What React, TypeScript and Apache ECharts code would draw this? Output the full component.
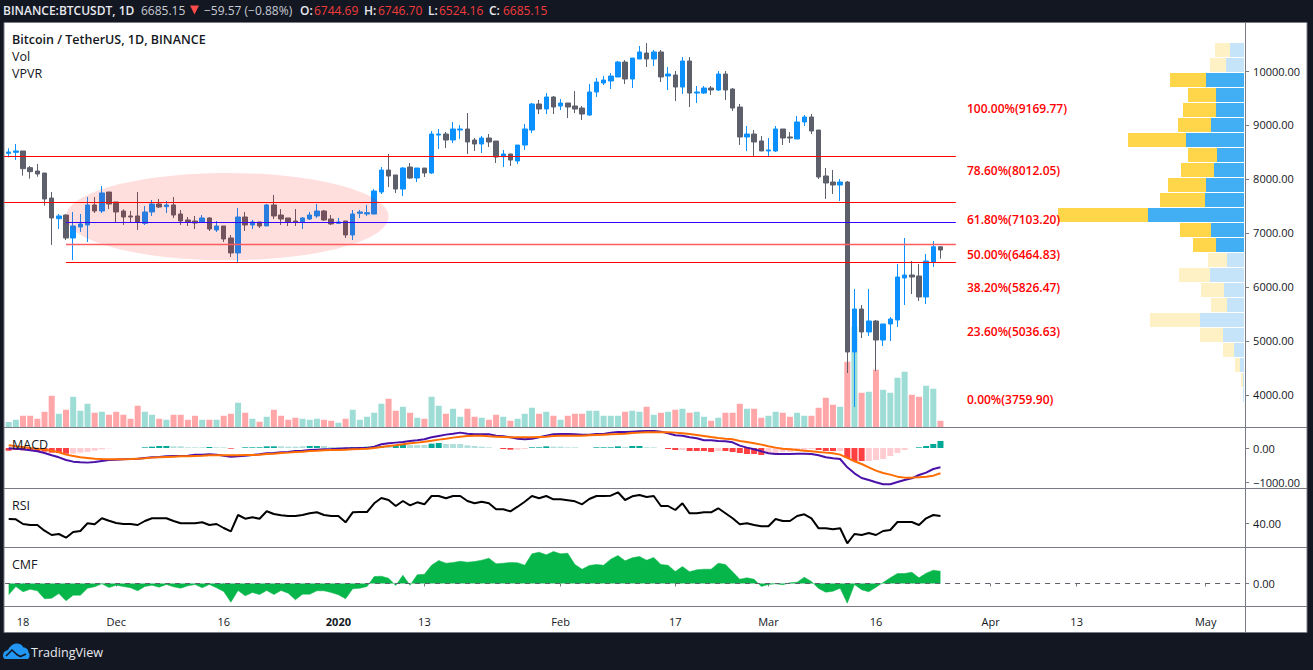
import React, { useEffect, useRef } from "react";
import * as echarts from "echarts";

// ---- dates -------------------------------------------------------------
const monthStarts: [string, number, number][] = [
  ["2019-11", 16, 30],
  ["2019-12", 1, 31],
  ["2020-01", 1, 31],
  ["2020-02", 1, 29],
  ["2020-03", 1, 31],
  ["2020-04", 1, 30],
  ["2020-05", 1, 6],
];
const categories: string[] = [];
monthStarts.forEach(([m, from, to]) => {
  for (let d = from; d <= to; d++) categories.push(m + "-" + String(d).padStart(2, "0"));
});
const tickDates = ["2019-11-18", "2019-12-01", "2019-12-16", "2020-01-01", "2020-01-13", "2020-02-01", "2020-02-17", "2020-03-01", "2020-03-16", "2020-04-01", "2020-04-13", "2020-05-01"];
const tickLabels = ["18", "Dec", "16", "2020", "13", "Feb", "17", "Mar", "16", "Apr", "13", "May"];

// ---- candles: open, close, low, high ------------------------------------
const candles: number[][] = [
  [8475,8500,8401,8568],[8494,8519,8352,8648],[8519,8191,8062,8519],[8210,8136,8006,8241],[8148,8093,8043,8278],
  [8111,7630,7506,8111],[7648,7278,6778,7759],[7265,7315,7074,7352],[7333,6907,6870,7346],[6907,7130,6500,7389],
  [7111,7167,7019,7352],[7148,7519,6833,7667],[7519,7407,7370,7667],[7407,7741,7370,7870],[7759,7537,7444,7759],
  [7574,7389,7204,7574],[7407,7296,7148,7438],[7315,7296,7204,7407],[7315,7204,7056,7759],[7179,7389,7148,7500],
  [7389,7537,7315,7611],[7537,7481,7463,7630],[7488,7519,7370,7593],[7519,7333,7278,7667],[7352,7222,7148,7426],
  [7241,7204,7130,7296],[7222,7185,7074,7315],[7204,7278,7204,7333],[7278,7074,7037,7296],[7056,7130,7019,7222],
  [7130,6889,6833,7130],[6907,6630,6556,6963],[6630,7296,6463,7463],[7296,7148,7037,7389],[7148,7204,7074,7241],
  [7204,7130,7093,7204],[7130,7519,7130,7537],[7519,7315,7259,7704],[7333,7259,7148,7444],[7278,7204,7130,7278],
  [7222,7204,7130,7444],[7204,7278,7074,7296],[7259,7333,7241,7389],[7315,7407,7278,7537],[7407,7241,7222,7426],
  [7259,7167,7148,7333],[7179,7204,7167,7278],[7222,6963,6907,7222],[6963,7352,6870,7426],[7364,7389,7278,7426],
  [7352,7377,7315,7519],[7351,7777,7351,7814],[7759,8166,7722,8222],[8166,8055,7851,8463],[8074,7814,7740,8074],
  [7814,8203,7685,8222],[8222,8018,8000,8296],[8018,8203,7944,8203],[8203,8111,8037,8203],[8111,8833,8092,8888],
  [8814,8833,8555,8926],[8833,8722,8574,8870],[8722,8926,8666,9055],[8907,8926,8740,8999],[8926,8685,8463,9222],
  [8722,8648,8518,8759],[8648,8759,8481,8796],[8759,8685,8592,8833],[8703,8407,8296,8703],[8413,8463,8222,8537],
  [8463,8351,8240,8463],[8333,8629,8277,8629],[8629,8926,8537,9018],[8907,9389,8852,9407],[9389,9296,9203,9463],
  [9296,9518,9203,9592],[9518,9333,9203,9537],[9352,9407,9277,9481],[9407,9333,9129,9407],[9352,9296,9222,9629],
  [9314,9203,9092,9352],[9185,9611,9166,9759],[9611,9796,9518,9870],[9778,9833,9740,9907],[9815,9907,9666,9963],
  [9889,10166,9889,10185],[10166,9852,9759,10203],[9852,10240,9685,10240],[10222,10352,10222,10463],[10333,10222,10074,10518],
  [10222,10352,10092,10389],[10352,9889,9796,10389],[9907,9944,9648,10074],[9926,9703,9444,10000],[9703,10185,9574,10259],
  [10185,9592,9333,10259],[9592,9611,9407,9722],[9592,9685,9574,9722],[9685,9648,9555,9722],[9648,9944,9629,10000],
  [9944,9648,9463,10000],[9666,9314,9259,9685],[9333,8778,8630,9389],[8778,8833,8519,8981],[8833,8685,8426,8907],
  [8704,8519,8519,8796],[8519,8537,8426,8759],[8519,8926,8500,8981],[8926,8759,8630,8926],[8778,8759,8667,8870],
  [8741,9056,8741,9167],[9056,9148,8981,9185],[9148,8889,8833,9204],[8907,8037,8000,8907],[8056,7926,7630,8204],
  [7944,7889,7722,8167],[7889,7944,7593,8000],[7944,4796,4407,7963],[4796,5592,3778,5963],[5592,5167,5055,5667],
  [5167,5370,5093,5963],[5370,5018,4444,5389],[5018,5315,4907,5315],[5315,5407,5000,5444],[5389,6185,5259,6426],
  [6167,6222,5667,6907],[6222,6185,5870,6481],[6204,5815,5741,6426],[5815,6481,5685,6611],[6463,6745,6370,6852],
  [6744.69,6685.15,6524.16,6746.7],
];

// volume, thousand BTC
const volume = [
  20,29,45,45,33,61,125,53,69,121, 65,93,57,61,49,61,49,33,85,61,
  49,33,29,49,49,29,45,29,29,29, 45,53,97,57,33,21,41,69,45,29,
  37,33,29,33,29,25,17,33,69,29, 41,57,93,113,65,81,57,37,33,121,
  85,53,73,41,73,41,37,29,49,41, 25,33,53,77,53,61,45,29,45,53,
  53,65,65,45,45,45,61,65,61,81, 49,57,61,69,73,57,61,41,25,37,
  57,57,93,73,73,37,45,61,57,41, 57,45,45,77,117,89,81,261,402,137,
  141,229,149,137,197,221,129,121,165,153,25,
];

// MACD pane
const macdLine = [
  -9,-19,-38,-68,-97,-146,-215,-274,-352,-401, -421,-430,-411,-381,-352,-342,-332,-323,-313,-293,
  -274,-264,-244,-234,-234,-225,-195,-195,-185,-195, -225,-254,-244,-225,-205,-185,-156,-146,-127,-117,
  -87,-78,-58,-48,-38,-29,-19,-9,-9,1, 1,40,109,138,158,177,207,226,256,314,
  354,393,422,452,422,403,403,403,363,344, 314,275,256,275,314,363,403,412,412,403,
  393,393,412,412,452,471,471,481,491,501, 501,481,432,373,363,314,285,226,226,207,
  197,167,69,11,-38,-97,-156,-176,-176,-176, -166,-166,-176,-215,-274,-303,-323,-568,-744,-881,
  -940,-1009,-1067,-1067,-999,-940,-891,-793,-724,-617,-568,
];
const signalLine = [
  79,50,30,1,-19,-48,-78,-127,-195,-234, -274,-293,-313,-323,-332,-332,-332,-323,-313,-303,
  -283,-274,-264,-254,-244,-244,-234,-225,-215,-215, -215,-215,-215,-205,-205,-195,-176,-166,-146,-136,
  -117,-107,-87,-78,-68,-58,-58,-48,-38,-29, -19,1,30,60,79,109,138,158,187,216,
  246,275,305,334,354,363,363,344,334,324, 314,314,314,314,324,334,354,363,363,363,
  363,373,383,393,403,412,422,442,452,461, 461,461,461,452,432,412,383,354,324,295,
  275,256,207,177,138,99,50,11,-19,-38, -58,-78,-97,-117,-136,-156,-195,-293,-391,-470,
  -568,-666,-734,-783,-842,-871,-871,-862,-842,-813,-744,
];
const macdHist = [
  -78,-59,-69,-78,-88,-108,-137,-147,-167,-167, -137,-118,-78,-39,-10,0,0,0,0,20,
  39,59,59,49,49,20,20,20,29,20, 20,-20,0,20,20,20,49,49,49,39,
  39,49,59,59,59,29,29,20,29,29, 39,59,59,78,78,118,88,88,88,127,
  147,118,118,118,78,59,39,20,0,-29, -49,-49,-29,20,20,49,39,39,20,20,
  0,0,20,20,20,49,29,59,59,20, 20,0,-29,-59,-59,-88,-88,-88,-118,-88,
  -88,-118,-147,-176,-176,-206,-147,-147,-118,-118, -88,-59,-29,-59,-88,-88,-88,-294,-382,-382,
  -382,-353,-323,-235,-147,-59,0,20,59,118,206,
];
const histStrong = [
  1,1,1,1,1,1,1,1,1,0, 0,0,0,0,0,0,0,0,0,1,
  1,1,1,0,0,0,0,0,1,0, 0,1,0,1,1,1,1,1,0,0,
  0,0,1,1,0,0,0,0,1,1, 1,1,1,0,1,1,0,0,0,1,
  1,0,0,0,0,0,0,0,0,1, 1,0,0,1,1,1,0,0,0,0,
  0,0,1,1,1,1,0,1,1,0, 0,0,1,1,0,1,1,1,1,0,
  1,1,1,1,1,1,0,0,0,0, 0,0,0,1,1,1,0,1,1,1,
  0,0,0,0,0,0,0,1,1,1,1,
];

const rsi = [
  44,43.7,39,38,38,32.3,28,29,25.3,31, 32,39.7,38.7,44.7,42.3,40,39,39,38,42,
  44.7,44.7,44.7,42,39.7,39.7,39.7,40.7,38,39, 35,31.7,48,44.3,45.7,44.3,51.7,49,47.7,47,
  47,48,49.7,50.7,48,47,47,40.7,50.7,51, 51,59.7,65,63,57,62,57.7,60.7,58.7,67,
  67,64.7,67,67,62,59.7,61.3,59.7,53.7,53.7, 51.7,56.3,61.3,67,64.7,67,63.7,63.7,62.7,61.7,
  58.7,64,67,67,67.3,70.7,63,66.7,68,66, 67,57,57,53,59.7,49.7,49.7,50.7,50.7,54.7,
  49.7,44.7,38.7,39.7,38,36.7,36.7,44,42,42, 47,48.7,44.7,34.7,34.7,33.7,34.7,19.7,29,28,
  30,28,32,33,41,41,41,38,44.7,48,47,
];

const cmf = [
  -0.113,-0.03,-0.083,-0.057,-0.073,-0.153,-0.147,-0.1,-0.173,-0.117, -0.117,-0.047,-0.033,-0.003,-0.04,-0.017,-0.03,-0.043,-0.073,-0.03,
  -0.017,-0.037,-0.01,-0.033,-0.047,-0.023,-0.01,-0.043,-0.01,-0.043, -0.08,-0.187,-0.07,-0.123,-0.09,-0.11,-0.07,-0.11,-0.07,-0.097,
  -0.163,-0.107,-0.107,-0.073,-0.073,-0.09,-0.113,-0.153,-0.053,-0.047, -0.03,0.07,0.073,0.053,-0.02,0.083,-0.017,0.087,0.093,0.183,
  0.23,0.203,0.21,0.223,0.213,0.22,0.233,0.253,0.197,0.203, 0.21,0.207,0.183,0.297,0.313,0.287,0.32,0.297,0.303,0.19,
  0.143,0.18,0.19,0.183,0.243,0.28,0.227,0.257,0.27,0.233, 0.26,0.19,0.183,0.12,0.17,0.117,0.137,0.143,0.143,0.203,
  0.19,0.117,0.043,0.057,0.043,-0.03,-0.01,-0.003,-0.013,0.007, 0.013,0.063,0.02,-0.05,-0.087,-0.077,-0.047,-0.197,-0.01,-0.063,
  -0.083,-0.037,0.01,0.057,0.1,0.1,0.113,0.057,0.103,0.133,0.123,
];
const cmfZero = [0];

// VPVR rows, top row first
const vpvrRows = ["10528","10250","9972","9695","9417","9139","8861","8583","8306","8028","7750","7472","7194","6917","6639","6361","6083","5806","5528","5250","4972","4694","4417","4139"];
const vpvrUp = [14,18,38,28,28,33,58,27,30,38,39,96,33,28,17,34,20,17,44,21,10,4,1,1];
const vpvrDown = [15,16,36,28,33,33,58,29,33,38,45,90,31,23,19,31,23,16,50,23,11,5,2,0];
const vpvrValueArea = [0,0,1,1,1,1,1,1,1,1,1,1,1,1,0,0,0,0,0,0,0,0,0,0];

// drawn lines: first bar (-1 = pane edge), last bar, price
const drawnStart = [-1, -1, 8, 8, 8];
const drawnEnd = [132, 132, 132, 132, 132];
const drawnPrice = [8416, 7568, 7190, 6796, 6457];

// highlighted zone: first bar, last bar, top price, bottom price
const zone = [7.85, 53.1, 8111, 6494];

const fibTexts = ["100.00%(9169.77)", "78.60%(8012.05)", "61.80%(7103.20)", "50.00%(6464.83)", "38.20%(5826.47)", "23.60%(5036.63)", "0.00%(3759.90)"];
const priceTicks = [4000, 5000, 6000, 7000, 8000, 9000, 10000];

// ---- styles ------------------------------------------------------------
const FONT = '"Open Sans", "Noto Sans", sans-serif';
const INK = "#131722";
const GRIDLINE = "#787b86";
const drawnColor = ["#ff0000", "#ff0000", "#3a00ff", "#ff5c60", "#ff0000"];
const drawnWidth = [1.2, 1, 1.2, 1.6, 1.2];
const fibY = [108, 170, 219, 254, 287, 331, 399];
const logoPath = "M0 12 C0 9 2 7 5 6.5 C7 2.5 10 0 14 0 C17 0 19 1.5 20.5 4 C23.5 4 25.5 6.5 25.5 9 C27 10 27 14 25 15.5 L2 15.5 C0.5 15 0 13.5 0 12 Z";
echarts.graphic.registerShape("tvlogo", echarts.graphic.extendPath(logoPath, {}));

const txt = (x: number, y: number, text: string, fill: string, size = 12.5, weight = "normal", align = "left") => ({
  type: "text",
  z: 30,
  silent: true,
  style: { x, y, text, fill, align, verticalAlign: "middle", font: `${weight} ${size}px ${FONT}` },
});
const rule = (x1: number, y1: number, x2: number, y2: number, stroke = GRIDLINE) => ({
  type: "line",
  z: 25,
  silent: true,
  shape: { x1, y1, x2, y2 },
  style: { stroke, lineWidth: 1 },
});

const hidden = { show: false };
const catAxis = (gridIndex: number, extra: any = {}) => ({
  type: "category",
  gridIndex,
  data: categories,
  boundaryGap: true,
  axisLine: hidden,
  axisTick: hidden,
  axisLabel: hidden,
  splitLine: hidden,
  ...extra,
});
const valAxis = (gridIndex: number, min: number, max: number, ticks: number[], fmt: (v: number) => string) => ({
  type: "value",
  gridIndex,
  position: "right",
  min,
  max,
  splitLine: hidden,
  axisLine: { show: false },
  axisTick: { show: true, length: 4, lineStyle: { color: GRIDLINE }, customValues: ticks },
  axisLabel: { show: true, color: INK, fontFamily: FONT, fontSize: 11, margin: 8, customValues: ticks, formatter: fmt },
});

function buildOption() {
  const tickIdx = new Set(tickDates.map((d) => categories.indexOf(d)));
  const isUp = (i: number) => candles[i][1] >= candles[i][0];
  return {
    animation: false,
    backgroundColor: "#131722",
    graphic: [
      { type: "rect", z: -10, silent: true, shape: { x: 4, y: 22.5, width: 1303, height: 610 }, style: { fill: "#ffffff", stroke: GRIDLINE, lineWidth: 1 } },
      rule(4, 427.5, 1307, 427.5),
      rule(4, 488.5, 1307, 488.5),
      rule(4, 547.5, 1307, 547.5),
      rule(4, 606.5, 1307, 606.5),
      rule(1245.5, 23, 1245.5, 632),
      txt(3, 10, "BINANCE:BTCUSDT, 1D", "#e8eaf0", 12, "600"),
      txt(141, 10, "6685.15", "#c8cbd4", 12),
      { type: "polygon", z: 30, silent: true, shape: { points: [[190, 5.5], [199, 5.5], [194.5, 14.5]] }, style: { fill: "#ff4a4a" } },
      txt(204, 10, "−59.57 (−0.88%)", "#c8cbd4", 12),
      txt(300, 10, "O:", "#e8eaf0", 12, "600"),
      txt(314, 10, "6744.69", "#f23b3b", 12),
      txt(364, 10, "H:", "#e8eaf0", 12, "600"),
      txt(378, 10, "6746.70", "#f23b3b", 12),
      txt(428, 10, "L:", "#e8eaf0", 12, "600"),
      txt(439, 10, "6524.16", "#f23b3b", 12),
      txt(489, 10, "C:", "#e8eaf0", 12, "600"),
      txt(503, 10, "6685.15", "#f23b3b", 12),
      txt(12, 39.5, "Bitcoin / TetherUS, 1D, BINANCE", "#131722", 12.5, "600"),
      txt(12, 56.5, "Vol", "#131722", 12.5),
      txt(12, 73.5, "VPVR", "#131722", 12.5),
      txt(12, 444.5, "MACD", "#131722", 12.5),
      txt(12, 505.5, "RSI", "#131722", 12.5),
      txt(12, 564.5, "CMF", "#131722", 12.5),
      ...fibTexts.map((t, i) => txt(967, fibY[i], t, "#ff0000", 12, "600")),
      { type: "tvlogo", z: 30, x: 3, y: 643.5, silent: true, style: { fill: "#2196f3" } },
      { type: "polyline", z: 31, silent: true, shape: { points: [[6, 656], [12, 650], [17.5, 655], [20.5, 656.5], [26, 654]] }, style: { stroke: "#131722", fill: "none", lineWidth: 1.6 } },
      txt(31, 652, "TradingView", "#e8eaf0", 12.6),
    ],
    grid: [
      { left: 5.1, top: 23, width: 1240, height: 404 },
      { left: 1044, top: 42.5, width: 200, height: 360 },
      { left: 5.1, top: 428, width: 1240, height: 60 },
      { left: 5.1, top: 489, width: 1240, height: 58 },
      { left: 5.1, top: 548, width: 1240, height: 58 },
    ],
    xAxis: [
      catAxis(0),
      { type: "value", gridIndex: 1, inverse: true, min: 0, max: 200, show: false },
      catAxis(2),
      catAxis(3),
      catAxis(4, {
        axisTick: {
          show: true,
          length: 3,
          alignWithLabel: true,
          lineStyle: { color: GRIDLINE },
          interval: (i: number) => tickIdx.has(i),
        },
        axisLabel: {
          show: true,
          hideOverlap: false,
          color: INK,
          fontFamily: FONT,
          fontSize: 11,
          margin: 10,
          interval: (i: number) => tickIdx.has(i),
          formatter: (v: string) => {
            const l = tickLabels[tickDates.indexOf(v)] ?? "";
            return l === "2020" ? `{b|${l}}` : l;
          },
          rich: { b: { fontWeight: 700, fontFamily: FONT, fontSize: 11, color: INK } },
        },
      }),
    ],
    yAxis: [
      valAxis(0, 3407, 10889, priceTicks, (v) => v.toFixed(2)),
      { type: "value", gridIndex: 0, min: 0, max: 1616, show: false },
      { type: "category", gridIndex: 1, inverse: true, data: vpvrRows, show: false },
      valAxis(2, -1176, 588, [-1000, 0], (v) => v.toFixed(2).replace("-", "−")),
      valAxis(3, 16, 74, [40], (v) => v.toFixed(2)),
      valAxis(4, -0.225, 0.355, [0], (v) => v.toFixed(2)),
    ],
    series: [
      {
        type: "bar",
        name: "Vol",
        xAxisIndex: 0,
        yAxisIndex: 1,
        barWidth: 6,
        z: 1,
        data: volume.map((v, i) => ({ value: v, itemStyle: { color: isUp(i) ? "#9edcd6" : "#ffa6a8" } })),
      },
      {
        type: "candlestick",
        name: "BTCUSDT",
        xAxisIndex: 0,
        yAxisIndex: 0,
        barWidth: 5,
        z: 2,
        itemStyle: { color: "#0a90ff", color0: "#5d606b", borderColor: "#0a90ff", borderColor0: "#5d606b", borderWidth: 1 },
        data: candles,
      },
      {
        type: "custom",
        name: "zone",
        xAxisIndex: 0,
        yAxisIndex: 0,
        z: 5,
        silent: true,
        encode: { x: [0, 1], y: [2, 3] },
        data: [zone],
        renderItem: (_p: any, api: any) => {
          const a = api.coord([api.value(0), api.value(2)]);
          const b = api.coord([api.value(1), api.value(3)]);
          return {
            type: "ellipse",
            shape: { cx: (a[0] + b[0]) / 2, cy: (a[1] + b[1]) / 2, rx: Math.abs(b[0] - a[0]) / 2, ry: Math.abs(b[1] - a[1]) / 2 },
            style: { fill: "rgba(255,0,0,0.13)" },
          };
        },
      },
      {
        type: "custom",
        name: "levels",
        xAxisIndex: 0,
        yAxisIndex: 0,
        z: 6,
        silent: true,
        clip: false,
        encode: { x: [0, 1], y: 2 },
        data: drawnPrice.map((p, i) => [Math.max(drawnStart[i], 0), drawnEnd[i], p]),
        renderItem: (params: any, api: any) => {
          const i = params.dataIndex;
          const s = api.coord([api.value(0), api.value(2)]);
          const e = api.coord([api.value(1), api.value(2)]);
          const y = Math.floor(s[1]) + 0.5;
          return {
            type: "line",
            shape: { x1: drawnStart[i] < 0 ? params.coordSys.x - 1 : s[0], y1: y, x2: e[0] + 1, y2: y },
            style: { stroke: drawnColor[i], lineWidth: drawnWidth[i] },
          };
        },
      },
      {
        type: "bar",
        name: "VPVR up",
        xAxisIndex: 1,
        yAxisIndex: 2,
        stack: "vpvr",
        barWidth: 14,
        data: vpvrUp,
        itemStyle: { color: (p: any) => (vpvrValueArea[p.dataIndex] ? "#42aef3" : "#c5e4fa") },
      },
      {
        type: "bar",
        name: "VPVR down",
        xAxisIndex: 1,
        yAxisIndex: 2,
        stack: "vpvr",
        barWidth: 14,
        data: vpvrDown,
        itemStyle: { color: (p: any) => (vpvrValueArea[p.dataIndex] ? "#ffd54a" : "#fff1c6") },
      },
      {
        type: "bar",
        name: "MACD hist",
        xAxisIndex: 2,
        yAxisIndex: 3,
        barWidth: 6,
        z: 1,
        data: macdHist,
        itemStyle: {
          color: (p: any) => {
            const pos = p.value >= 0;
            return histStrong[p.dataIndex] ? (pos ? "#00a898" : "#ff4042") : pos ? "#b2dfdb" : "#ffcdd2";
          },
        },
      },
      { type: "line", name: "MACD", xAxisIndex: 2, yAxisIndex: 3, data: macdLine, showSymbol: false, z: 3, lineStyle: { color: "#4a12a8", width: 2 } },
      { type: "line", name: "Signal", xAxisIndex: 2, yAxisIndex: 3, data: signalLine, showSymbol: false, z: 4, lineStyle: { color: "#ff6d00", width: 2 } },
      { type: "line", name: "RSI", xAxisIndex: 3, yAxisIndex: 4, data: rsi, showSymbol: false, lineStyle: { color: "#000000", width: 2 } },
      {
        type: "line",
        name: "CMF",
        xAxisIndex: 4,
        yAxisIndex: 5,
        data: cmf,
        showSymbol: false,
        lineStyle: { color: "#06b64a", width: 0.5 },
        areaStyle: { color: "#06b64a", opacity: 1, origin: 0 },
      },
      {
        type: "custom",
        name: "CMF zero",
        xAxisIndex: 4,
        yAxisIndex: 5,
        z: 6,
        silent: true,
        clip: false,
        encode: { x: 0, y: 1 },
        data: cmfZero.map((v) => [0, v]),
        renderItem: (params: any, api: any) => {
          const y = Math.floor(api.coord([0, api.value(1)])[1]) + 0.5;
          const g = params.coordSys;
          return {
            type: "line",
            shape: { x1: g.x, y1: y, x2: g.x + g.width, y2: y },
            style: { stroke: "#5d606b", lineWidth: 1, lineDash: [5, 5] },
          };
        },
      },
    ],
  };
}

export default function App() {
  const ref = useRef<HTMLDivElement>(null);
  useEffect(() => {
    const chart = echarts.init(ref.current!, undefined, { renderer: "svg" });
    chart.setOption(buildOption() as any);
    return () => chart.dispose();
  }, []);
  return <div ref={ref} style={{ position: "fixed", left: 0, top: 0, width: 1313, height: 670 }} />;
}
